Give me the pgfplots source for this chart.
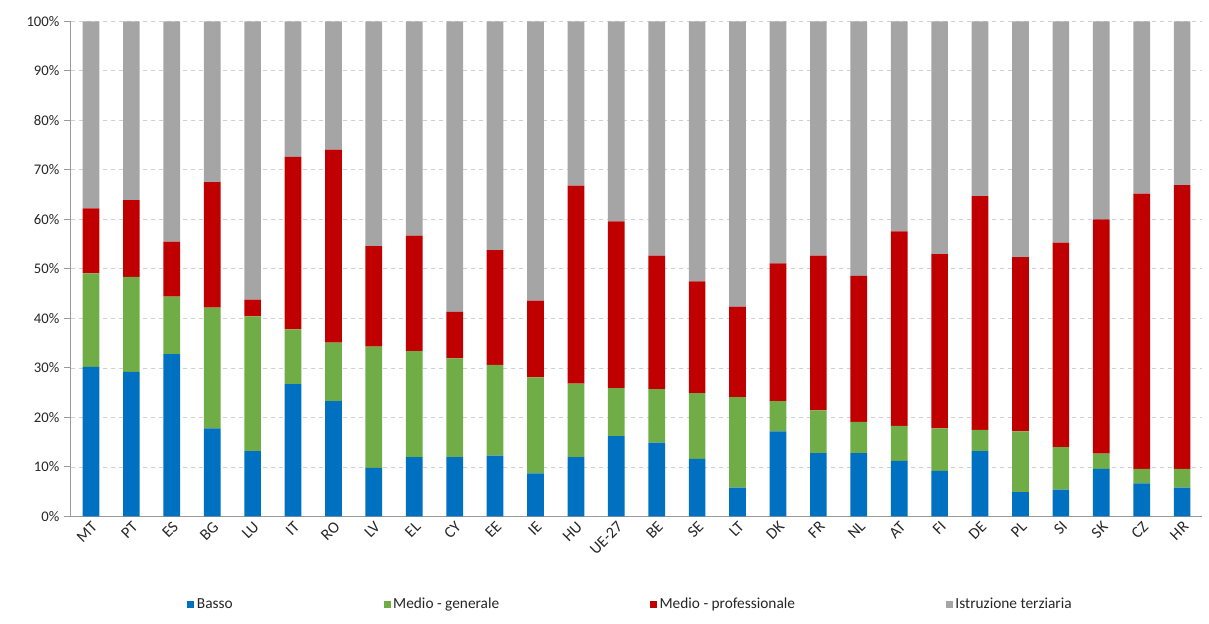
\documentclass[border=0pt]{standalone}
\usepackage{pgfplots}
\usepackage{pgfplotstable}
\pgfplotsset{compat=1.18}
\usepackage{fontspec}
\setmainfont{Carlito}
\definecolor{cBlue}{HTML}{0070C0}
\definecolor{cGreen}{HTML}{70AD47}
\definecolor{cRed}{HTML}{C00000}
\definecolor{cGray}{HTML}{A5A5A5}
\definecolor{cAxis}{HTML}{9A9A9A}
\definecolor{cGrid}{HTML}{D0D0D0}
\definecolor{cText}{HTML}{262626}
\pgfplotstableread{
cat b g p t
MT 30.2 18.9 13.1 37.8
PT 29.2 19.2 15.5 36.1
ES 32.8 11.6 11.1 44.5
BG 17.8 24.4 25.3 32.5
LU 13.2 27.2 3.4 56.2
IT 26.7 11.1 34.8 27.4
RO 23.3 11.8 39.0 25.9
LV 9.8 24.5 20.3 45.4
EL 12.0 21.4 23.3 43.3
CY 12.0 19.9 9.4 58.7
EE 12.3 18.3 23.2 46.2
IE 8.7 19.4 15.5 56.4
HU 12.0 14.8 40.0 33.2
UE-27 16.2 9.7 33.7 40.4
BE 14.9 10.8 27.0 47.3
SE 11.6 13.3 22.6 52.5
LT 5.8 18.3 18.3 57.6
DK 17.2 6.1 27.8 48.9
FR 12.8 8.6 31.3 47.3
NL 12.8 6.3 29.5 51.4
AT 11.2 7.1 39.3 42.4
FI 9.2 8.6 35.2 47.0
DE 13.2 4.3 47.2 35.3
PL 4.9 12.3 35.2 47.6
SI 5.4 8.6 41.3 44.7
SK 9.6 3.1 47.3 40.0
CZ 6.7 2.9 55.6 34.8
HR 5.8 3.8 57.3 33.1
}\data
\begin{document}
\begin{tikzpicture}
\begin{axis}[
  name=ax,
  scale only axis,
  width=848pt, height=371pt,
  ybar stacked, bar width=12.5pt,
  xmin=-0.5, xmax=27.5, ymin=0, ymax=100,
  axis lines*=left,
  axis line style={cAxis, line width=0.8pt},
  clip=false,
  xtick={0,...,27},
  xticklabels from table={\data}{cat},
  extra x ticks={-0.5,0.5,...,27.5},
  extra x tick labels={},
  extra x tick style={major tick length=5pt, tick style={cAxis, line width=0.8pt}, tick pos=left, xtick align=outside},
  major x tick style={draw=none},
  x tick label style={rotate=45, anchor=north east, font=\fontsize{12}{14}\selectfont, text=cText, inner sep=2pt},
  ytick={0,10,...,100},
  yticklabel={\pgfmathprintnumber{\tick}\%},
  /pgf/number format/assume math mode=true,
  y tick label style={font=\fontsize{11}{13}\selectfont, text=cText},
  ytick align=outside, major tick length=5pt,
  y tick style={cAxis, line width=0.8pt},
  ymajorgrids, grid style={cGrid, dashed, line width=0.6pt},
  tick pos=left,
  legend style={at={(0.495,-0.178)}, anchor=center, draw=none, font=\fontsize{11.5}{13}\selectfont, text=cText,
    legend columns=4, /tikz/every even column/.append style={column sep=111pt}},
  legend image code/.code={\fill[#1] (0pt,-2.6pt) rectangle (5.2pt,2.6pt);},
]
\addplot[fill=cBlue, draw=none] table[x expr=\coordindex, y=b] {\data};
\addplot[fill=cGreen, draw=none] table[x expr=\coordindex, y=g] {\data};
\addplot[fill=cRed, draw=none] table[x expr=\coordindex, y=p] {\data};
\addplot[fill=cGray, draw=none] table[x expr=\coordindex, y=t] {\data};
\legend{Basso, Medio - generale, Medio - professionale, Istruzione terziaria}
\end{axis}
\path ([shift={(-53pt,-80pt)}]ax.south west) rectangle ([shift={(5pt,16pt)}]ax.north east);
\end{tikzpicture}
\end{document}
